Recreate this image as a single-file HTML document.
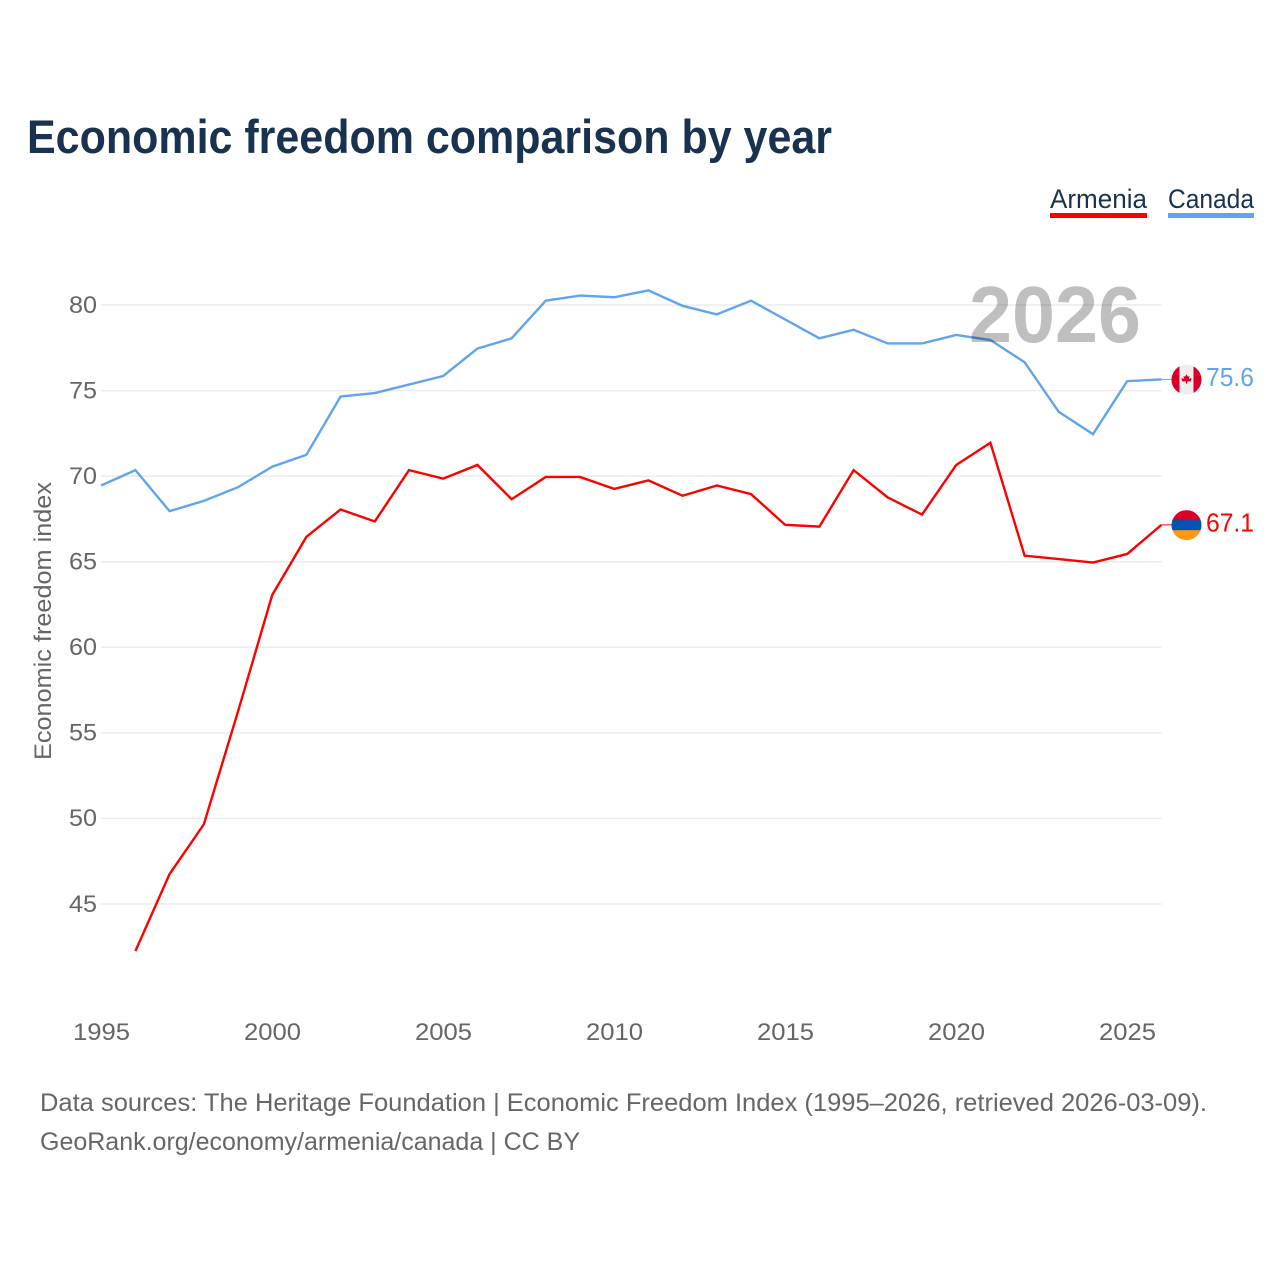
<!DOCTYPE html>
<html lang="en">
<head>
<meta charset="utf-8">
<title>Economic freedom comparison by year</title>
<style>
html,body{margin:0;padding:0;background:#fff;width:1280px;height:1280px;overflow:hidden}
svg{display:block;font-family:"Liberation Sans",sans-serif}
</style>
</head>
<body>
<svg id="chart" width="1280" height="1280" viewBox="0 0 1280 1280" xmlns="http://www.w3.org/2000/svg">
  <rect width="1280" height="1280" fill="#fff"/>
  <text x="27" y="153" font-size="47" font-weight="700" fill="#18324f" textLength="805" lengthAdjust="spacingAndGlyphs">Economic freedom comparison by year</text>

  <g>
    <text x="1050" y="208" font-size="27" fill="#18324f" textLength="97" lengthAdjust="spacingAndGlyphs">Armenia</text>
    <rect x="1050" y="213" width="97" height="5" fill="#ff0000"/>
  </g>
  <g>
    <text x="1168" y="208" font-size="27" fill="#18324f" textLength="86" lengthAdjust="spacingAndGlyphs">Canada</text>
    <rect x="1168" y="213" width="86" height="5" fill="#60a5ec"/>
  </g>

  <g id="grid"></g>
  <g id="yticks"></g>
  <g id="xticks"></g>

  <text transform="translate(51 621) rotate(-90)" text-anchor="middle" font-size="24" fill="#666" textLength="278" lengthAdjust="spacingAndGlyphs">Economic freedom index</text>

  <g id="series" transform="translate(0 -0.9)"></g>

  <text id="year-label" x="969" y="342" font-size="80" font-weight="700" fill="#000" fill-opacity="0.25" textLength="172" lengthAdjust="spacingAndGlyphs">2026</text>

  <defs>
    <clipPath id="flag-clip-canada"><circle cx="0" cy="0" r="15"/></clipPath>
    <clipPath id="flag-clip-armenia"><circle cx="0" cy="0" r="15"/></clipPath>
  </defs>

  <g id="flag-canada">
    <g clip-path="url(#flag-clip-canada)">
      <rect x="-15" y="-15" width="30" height="30" fill="#eeeeee"/>
      <rect x="-15" y="-15" width="8" height="30" fill="#d80027"/>
      <rect x="7" y="-15" width="8" height="30" fill="#d80027"/>
      <path d="M0-5.5 1.5-3 3-3.6 2.4-.6 4.6-1.8 5-.6 4.2 1.8 1 1.6 .5 4H-.5L-1 1.6-4.2 1.8-5-.6-4.6-1.8-2.4-.6-3-3.6-1.5-3Z" fill="#d80027"/>
    </g>
  </g>
  <g id="flag-armenia">
    <g clip-path="url(#flag-clip-armenia)">
      <rect x="-15" y="-15" width="30" height="10.5" fill="#d80027"/>
      <rect x="-15" y="-5" width="30" height="10.5" fill="#0052b4"/>
      <rect x="-15" y="5" width="30" height="10.5" fill="#ff9811"/>
    </g>
  </g>

  <text id="value-canada" x="1254" text-anchor="end" font-size="26" fill="#60a5ec" textLength="48" lengthAdjust="spacingAndGlyphs"></text>
  <text id="value-armenia" x="1254" text-anchor="end" font-size="26" fill="#ff0000" textLength="48" lengthAdjust="spacingAndGlyphs"></text>

  <text x="40" y="1111" font-size="25" fill="#666" textLength="1167" lengthAdjust="spacingAndGlyphs">Data sources: The Heritage Foundation | Economic Freedom Index (1995–2026, retrieved 2026-03-09).</text>
  <text x="40" y="1150" font-size="25" fill="#666" textLength="540" lengthAdjust="spacingAndGlyphs">GeoRank.org/economy/armenia/canada | CC BY</text>
</svg>
<script>
const years = [1995,1996,1997,1998,1999,2000,2001,2002,2003,2004,2005,2006,2007,2008,2009,2010,2011,2012,2013,2014,2015,2016,2017,2018,2019,2020,2021,2022,2023,2024,2025,2026];
const canadaValues = [69.4,70.3,67.9,68.5,69.3,70.5,71.2,74.6,74.8,75.3,75.8,77.4,78.0,80.2,80.5,80.4,80.8,79.9,79.4,80.2,79.1,78.0,78.5,77.7,77.7,78.2,77.9,76.6,73.7,72.4,75.5,75.6];
const armeniaValues = [null,42.2,46.7,49.6,56.2,63.0,66.4,68.0,67.3,70.3,69.8,70.6,68.6,69.9,69.9,69.2,69.7,68.8,69.4,68.9,67.1,67.0,70.3,68.7,67.7,70.6,71.9,65.3,65.1,64.9,65.4,67.1];
const yTickValues = [45,50,55,60,65,70,75,80];
const xTickValues = [1995,2000,2005,2010,2015,2020,2025];

const NS = 'http://www.w3.org/2000/svg';
const xScale = function (year) { return 101.2 + (year - 1995) * 34.2; };
const yScale = function (value) { return 305 + (80 - value) * (599 / 35); };
const plotRight = xScale(2026);

function make(tag, parent) {
  const el = document.createElementNS(NS, tag);
  parent.appendChild(el);
  return el;
}

const gridGroup = document.getElementById('grid');
const yTickGroup = document.getElementById('yticks');
const xTickGroup = document.getElementById('xticks');
const seriesGroup = document.getElementById('series');

yTickValues.forEach(function (v) {
  const line = make('line', gridGroup);
  
  
  line.setAttribute('x1', 101);
  line.setAttribute('x2', 1161.5);
  line.setAttribute('y1', yScale(v));
  line.setAttribute('y2', yScale(v));
  line.setAttribute('stroke', '#ebebeb');
  line.setAttribute('stroke-width', '1.5');

  const label = make('text', yTickGroup);
  
  
  label.setAttribute('x', 97);
  label.setAttribute('y', yScale(v) + 7.8);
  label.setAttribute('text-anchor', 'end');
  label.setAttribute('font-size', '24');
  label.setAttribute('fill', '#666');
  label.setAttribute('textLength', '28');
  label.setAttribute('lengthAdjust', 'spacingAndGlyphs');
  label.textContent = String(v);
});

xTickValues.forEach(function (yr) {
  const label = make('text', xTickGroup);
  
  
  label.setAttribute('x', 101.5 + (yr - 1995) * 34.2);
  label.setAttribute('y', 1040);
  label.setAttribute('text-anchor', 'middle');
  label.setAttribute('font-size', '24');
  label.setAttribute('fill', '#666');
  label.setAttribute('textLength', '57');
  label.setAttribute('lengthAdjust', 'spacingAndGlyphs');
  label.textContent = String(yr);
});

function drawSeries(name, values, color) {
  const pts = [];
  values.forEach(function (v, i) {
    if (v !== null) pts.push(xScale(years[i]).toFixed(2) + ',' + yScale(v).toFixed(2));
  });
  const path = make('polyline', seriesGroup);
  
  
  path.setAttribute('points', pts.join(' '));
  path.setAttribute('fill', 'none');
  path.setAttribute('stroke', color);
  path.setAttribute('stroke-width', '2.4');
  path.setAttribute('stroke-linejoin', 'miter');

  const last = values[values.length - 1];
  const link = make('line', seriesGroup);
  
  
  link.setAttribute('x1', plotRight);
  link.setAttribute('x2', 1172);
  link.setAttribute('y1', yScale(last));
  link.setAttribute('y2', yScale(last));
  link.setAttribute('stroke', color);
  link.setAttribute('stroke-width', '1');

  const flag = document.getElementById('flag-' + name);
  flag.setAttribute('transform', 'translate(1186.5 ' + (yScale(last) - 0.6).toFixed(2) + ')');

  const valueLabel = document.getElementById('value-' + name);
  valueLabel.setAttribute('y', (yScale(last) + 5.5).toFixed(2));
  valueLabel.textContent = last.toFixed(1);
}

drawSeries('armenia', armeniaValues, '#ff0000');
drawSeries('canada', canadaValues, '#60a5ec');
</script>
</body>
</html>
